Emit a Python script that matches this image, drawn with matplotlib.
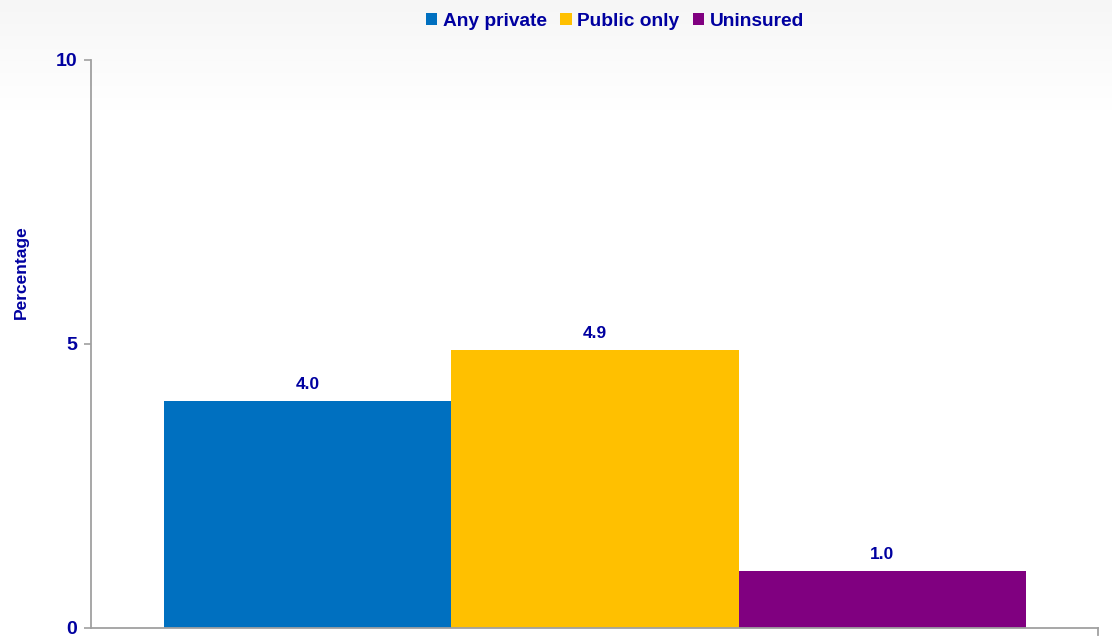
import matplotlib
matplotlib.use("Agg")
import matplotlib.pyplot as plt
import numpy as np
from matplotlib.patches import Patch

categories = ["Any private", "Public only", "Uninsured"]
values = [4.0, 4.9, 1.0]
colors = ["#0070C0", "#FFC000", "#800080"]
yticks = [0, 5, 10]
text_color = "#0000A0"

plt.rcParams['font.family'] = ['Liberation Sans', 'DejaVu Sans']

W, H = 1112, 637
fig = plt.figure(figsize=(W/100, H/100), dpi=100)

# background gradient
bg = fig.add_axes([0, 0, 1, 1], zorder=-10)
g = np.clip(np.linspace(0, 1, H) * 637 / 110, 0, 1)
vals = 0.965 + (1 - 0.965) * g
img = np.dstack([vals[:, None]] * 3)
bg.imshow(img, aspect='auto', extent=[0, 1, 0, 1])
bg.axis('off')

ax = fig.add_axes([91/W, (H-628)/H, (1098-91)/W, (628-60)/H])
ax.patch.set_alpha(0)
x = np.arange(len(categories))
bars = ax.bar(x, values, width=1.0, color=colors)
for xi, v in zip(x, values):
    ax.text(xi, v + 0.16, f"{v:.1f}", ha='center', va='bottom', fontsize=12.5,
            fontweight='bold', color=text_color)

ax.set_xlim(-0.753, 2.75)
ax.set_ylim(0, 10)
ax.set_yticks(yticks)
ax.set_yticklabels([str(t) for t in yticks], fontsize=14, fontweight='bold', color=text_color)
ax.tick_params(axis='y', length=5, width=1.2, color='#A0A0A0', pad=5)
ax.set_xticks([])
for s in ['top', 'right']:
    ax.spines[s].set_visible(False)
for s in ['left', 'bottom']:
    ax.spines[s].set_color('#A0A0A0')
    ax.spines[s].set_linewidth(1.3)
ax.plot([1, 1], [0, -0.012], transform=ax.transAxes, color='#A0A0A0', lw=1.3, clip_on=False)
ax.set_ylabel("Percentage", fontsize=12.5, fontweight='bold', color=text_color)
ax.yaxis.set_label_coords(-0.062, 0.627)

handles = [Patch(facecolor=c, edgecolor='none') for c in colors]
leg = fig.legend(handles, categories, loc='center', bbox_to_anchor=(615/W, 1 - 21/H), ncol=3,
                 frameon=False, handlelength=0.6, handleheight=0.6,
                 handletextpad=0.3, columnspacing=0.7,
                 prop={'weight': 'bold', 'size': 13.8})
for t in leg.get_texts():
    t.set_color(text_color)

fig.savefig("out.png", dpi=100)
